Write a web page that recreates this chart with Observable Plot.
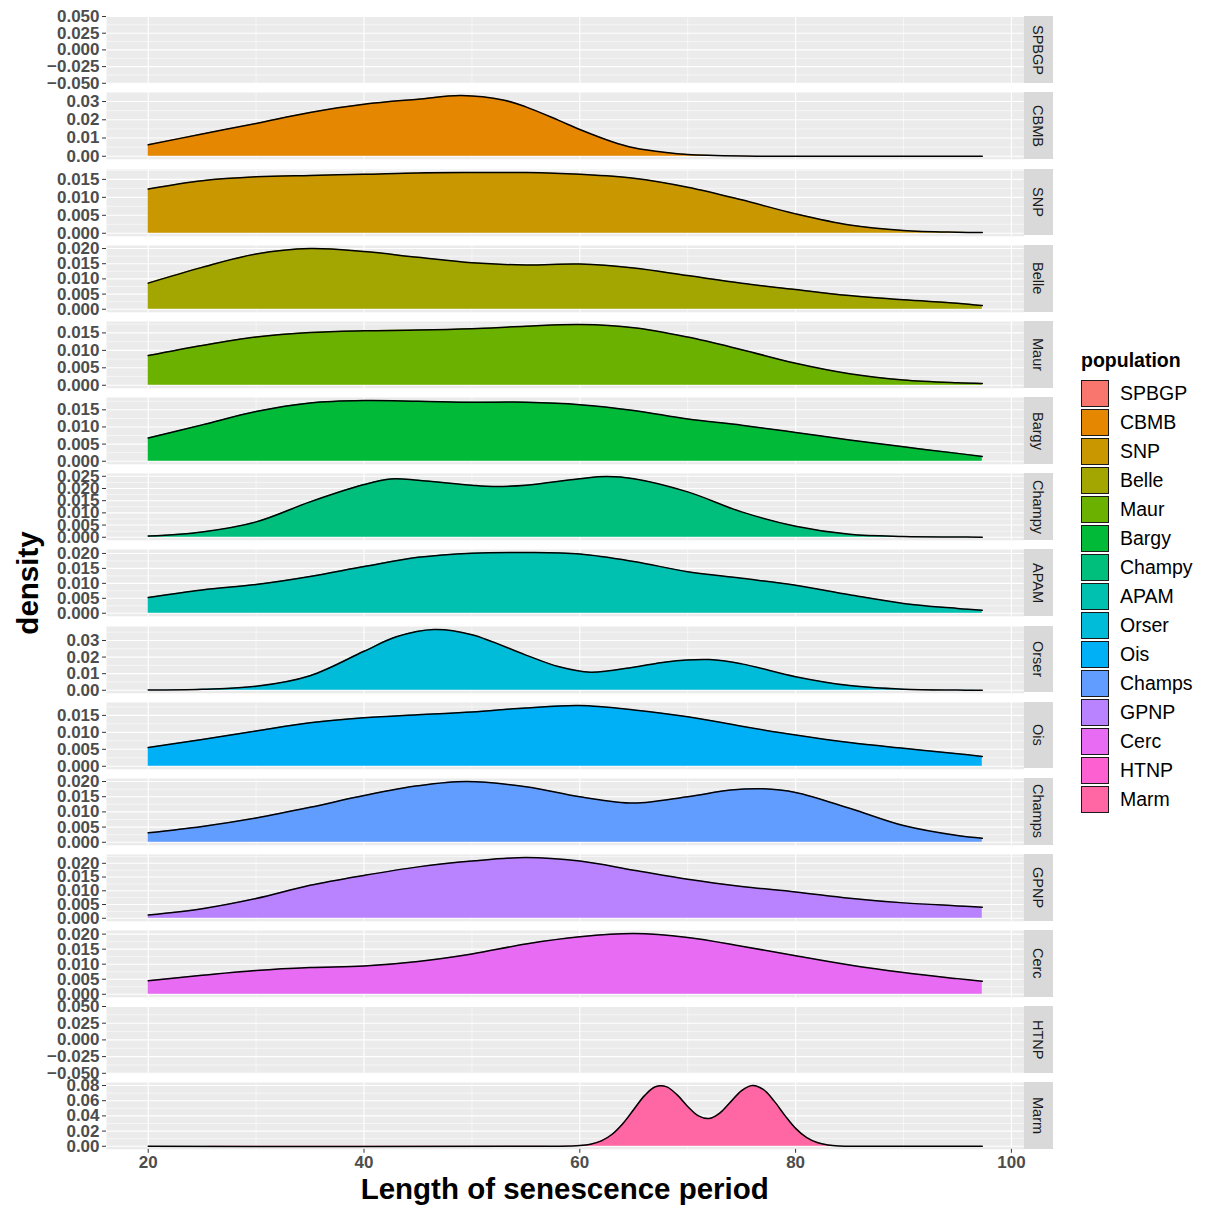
<!DOCTYPE html>
<html><head><meta charset="utf-8">
<script src="https://cdn.jsdelivr.net/npm/d3@7"></script>
<script src="https://cdn.jsdelivr.net/npm/@observablehq/plot@0.6"></script>
<style>
body{margin:0;background:#fff;font-family:"Liberation Sans",Arial,sans-serif;}
#chart{position:relative;width:1208px;height:1213px;overflow:hidden;background:#fff;}
svg.panel{position:absolute;left:0;overflow:visible;}
svg.panel text{font-family:"Liberation Sans",Arial,sans-serif;font-weight:bold;font-size:17px;fill:#4D4D4D;}
.strip{position:absolute;background:#D9D9D9;display:flex;align-items:center;justify-content:center;}
.strip span{writing-mode:vertical-rl;font-size:14.5px;color:#1A1A1A;line-height:1;}
.ytitle{position:absolute;width:240px;text-align:center;font-weight:bold;font-size:29.5px;line-height:30px;color:#000;transform:rotate(-90deg);}
.xtitle{position:absolute;text-align:center;font-weight:bold;font-size:29.5px;line-height:30px;color:#000;}
.legend-title{position:absolute;font-weight:bold;font-size:19.5px;line-height:20px;color:#000;}
.key{position:absolute;box-sizing:border-box;border:1.2px solid #1a1a1a;}
.klabel{position:absolute;font-size:19.5px;line-height:27px;color:#000;}
</style>
</head><body>
<div id="chart"></div>
<script>
// ---------- data ----------
const populations = ["SPBGP","CBMB","SNP","Belle","Maur","Bargy","Champy","APAM","Orser","Ois","Champs","GPNP","Cerc","HTNP","Marm"];
const fillColors = ["#F8766D","#E58700","#C99800","#A3A500","#6BB100","#00BA38","#00BF7D","#00C0AF","#00BCD8","#00B0F6","#619CFF","#B983FF","#E76BF3","#FD61D1","#FF67A4"];

const xGrid = [20,25,30,35,40,45,50,55,60,65,70,75,80,85,90,95,97.3];

const cbmbX = [20,25,30,35,40,45,49,53,55,58,60,63,65,68,70,75,80,90,97.3];
const cbmbY = [0.0063,0.0122,0.0180,0.0240,0.0285,0.0313,0.0333,0.0307,0.0271,0.0198,0.0147,0.0080,0.0047,0.0020,0.0009,0.0001,0,0,0];
const snpY   = [0.0123,0.0146,0.0157,0.0161,0.0164,0.0168,0.0169,0.0169,0.0164,0.0153,0.0128,0.0093,0.0054,0.0023,0.0008,0.0003,0.0002];
const belleY = [0.0086,0.0138,0.0182,0.0200,0.0190,0.0171,0.0153,0.0146,0.0149,0.0136,0.0111,0.0086,0.0065,0.0045,0.0031,0.0020,0.0012];
const maurY  = [0.0085,0.0114,0.0138,0.0151,0.0156,0.0158,0.0162,0.0169,0.0174,0.0165,0.0138,0.0102,0.0063,0.0033,0.0015,0.0007,0.0005];
const bargyY = [0.0068,0.0106,0.0145,0.0170,0.0177,0.0175,0.0172,0.0172,0.0165,0.0148,0.0123,0.0105,0.0084,0.0062,0.0042,0.0023,0.0014];
const champyX = [20,25,30,35,40,42.5,45,50,52,55,60,62.5,65,70,75,80,85,90,95,97.3];
const champyY = [0.0005,0.0022,0.0063,0.0145,0.0216,0.0239,0.0234,0.0213,0.0208,0.0213,0.0240,0.0249,0.0240,0.0186,0.0104,0.0045,0.0012,0.0003,0.0001,0];
const apamY  = [0.0053,0.0078,0.0096,0.0123,0.0156,0.0187,0.0201,0.0203,0.0198,0.0173,0.0139,0.0117,0.0094,0.0062,0.0033,0.0016,0.0010];
const orserX = [20,25,30,35,40,43,46.5,50,55,58,61,65,68,72,75,80,85,90,95,97.3];
const orserY = [0.0001,0.0006,0.0024,0.0088,0.0235,0.0322,0.0366,0.0335,0.0212,0.0143,0.0109,0.0139,0.0171,0.0185,0.0159,0.0082,0.0028,0.0006,0.0001,0];
const oisY   = [0.0055,0.0079,0.0104,0.0128,0.0143,0.0152,0.0160,0.0172,0.0179,0.0166,0.0146,0.0118,0.0092,0.0070,0.0053,0.0037,0.0029];
const champsX = [20,25,30,35,40,45,49.5,55,60,65,70,74,77,80,85,90,95,97.3];
const champsY = [0.0031,0.0052,0.0080,0.0115,0.0154,0.0186,0.0200,0.0183,0.0150,0.0129,0.0150,0.0172,0.0176,0.0164,0.0112,0.0055,0.0022,0.0013];
const gpnpY  = [0.0012,0.0035,0.0072,0.0120,0.0156,0.0187,0.0208,0.0221,0.0208,0.0175,0.0142,0.0116,0.0096,0.0073,0.0056,0.0045,0.0040];
const cercY  = [0.0045,0.0063,0.0079,0.0089,0.0094,0.0109,0.0134,0.0167,0.0191,0.0202,0.0189,0.0160,0.0128,0.0097,0.0072,0.0052,0.0043];
const marmX = [20,58,60,61,62,63,64,65,66,67,68,69,70,71,72,73,74,75,76,77,78,79,80,81,82,83,84,86,97.3];
const marmY = [0,0,0.0009,0.0027,0.0071,0.0158,0.0300,0.0484,0.0667,0.0783,0.0786,0.0681,0.0525,0.0400,0.0366,0.0441,0.0588,0.0734,0.0800,0.0748,0.0598,0.0407,0.0236,0.0117,0.0049,0.0018,0.0005,0,0];

const series = {
  SPBGP: null,
  CBMB: [cbmbX, cbmbY],
  SNP: [xGrid, snpY],
  Belle: [xGrid, belleY],
  Maur: [xGrid, maurY],
  Bargy: [xGrid, bargyY],
  Champy: [champyX, champyY],
  APAM: [xGrid, apamY],
  Orser: [orserX, orserY],
  Ois: [xGrid, oisY],
  Champs: [champsX, champsY],
  GPNP: [xGrid, gpnpY],
  Cerc: [xGrid, cercY],
  HTNP: null,
  Marm: [marmX, marmY]
};

const ticksEmpty = [-0.05,-0.025,0,0.025,0.05];
const ticks005_015 = [0,0.005,0.010,0.015];
const ticks005_020 = [0,0.005,0.010,0.015,0.020];
const ticks005_025 = [0,0.005,0.010,0.015,0.020,0.025];
const ticks01_03 = [0,0.01,0.02,0.03];
const ticks02_08 = [0,0.02,0.04,0.06,0.08];
const yTicks = {
  SPBGP: ticksEmpty, CBMB: ticks01_03, SNP: ticks005_015, Belle: ticks005_020,
  Maur: ticks005_015, Bargy: ticks005_015, Champy: ticks005_025, APAM: ticks005_020,
  Orser: ticks01_03, Ois: ticks005_015, Champs: ticks005_020, GPNP: ticks005_020,
  Cerc: ticks005_020, HTNP: ticksEmpty, Marm: ticks02_08
};
const yTickDecimals = {SPBGP:3, CBMB:2, SNP:3, Belle:3, Maur:3, Bargy:3, Champy:3, APAM:3, Orser:2, Ois:3, Champs:3, GPNP:3, Cerc:3, HTNP:3, Marm:2};
const xTicks = [20,40,60,80,100];
const xMinorTicks = [30,50,70,90];
const xTitle = "Length of senescence period";
const yTitle = "density";
const legendTitle = "population";

// ---------- layout ----------
const chart = document.getElementById("chart");
const T0 = 16.3, PITCH = 76.15, H = 66.8, LEFT = 106, RIGHT = 1023.5;

const allX = populations.flatMap(p => series[p] ? series[p][0] : []);
const [xlo, xhi] = d3.extent(allX);
const xpad = (xhi - xlo) * 0.05;
const xDomain = [xlo - xpad, xhi + xpad];

populations.forEach((pop, i) => {
  const s = series[pop];
  const data = s ? s[0].map((x, j) => ({x, y: s[1][j], pop})) : [];
  const ymax = s ? d3.max(s[1]) : null;
  const yDomain = s ? [-0.05 * ymax, 1.05 * ymax] : [-0.05, 0.05];
  const majors = yTicks[pop];
  const step = majors[1] - majors[0];
  const minors = [majors[0] - step / 2, ...majors.map(t => t + step / 2)]
    .filter(t => t > yDomain[0] && t < yDomain[1]);
  const fmt = d3.format("." + yTickDecimals[pop] + "f");
  const isLast = i === populations.length - 1;

  const marks = [
    Plot.frame({fill: "#EBEBEB", stroke: "none"}),
    Plot.gridY(minors, {stroke: "#FFFFFF", strokeOpacity: 1, strokeWidth: 0.55}),
    Plot.gridX(xMinorTicks, {stroke: "#FFFFFF", strokeOpacity: 1, strokeWidth: 0.55}),
    Plot.gridY(majors, {stroke: "#FFFFFF", strokeOpacity: 1, strokeWidth: 1.1}),
    Plot.gridX(xTicks, {stroke: "#FFFFFF", strokeOpacity: 1, strokeWidth: 1.1}),
    Plot.axisY(majors, {tickSize: 4, tickPadding: 3, stroke: "#333333", tickFormat: fmt, label: null})
  ];
  if (s) {
    marks.push(Plot.areaY(data, {x: "x", y: "y", fill: "pop", curve: "catmull-rom"}));
    marks.push(Plot.lineY(data, {x: "x", y: "y", stroke: "#000000", strokeWidth: 1.5, curve: "catmull-rom"}));
  }
  if (isLast) marks.push(Plot.axisX(xTicks, {tickSize: 4, tickPadding: 3, stroke: "#333333", label: null}));

  const svg = Plot.plot({
    width: RIGHT,
    height: H + (isLast ? 32 : 0),
    marginLeft: LEFT, marginRight: 0, marginTop: 0, marginBottom: isLast ? 32 : 0,
    x: {domain: xDomain, label: null, ...(isLast ? {} : {axis: null})},
    y: {domain: yDomain, label: null},
    color: {domain: populations, range: fillColors},
    style: {background: "transparent", overflow: "visible"},
    marks
  });
  svg.classList.add("panel");
  const top = T0 + i * PITCH;
  svg.style.top = top + "px";
  svg.style.left = "0px";
  svg.style.maxWidth = "none";
  chart.appendChild(svg);

  const strip = document.createElement("div");
  strip.className = "strip";
  strip.style.left = RIGHT + "px";
  strip.style.top = top + "px";
  strip.style.width = "29px";
  strip.style.height = H + "px";
  const sp = document.createElement("span");
  sp.textContent = pop;
  strip.appendChild(sp);
  chart.appendChild(strip);
});

// axis titles
const yt = document.createElement("div");
yt.className = "ytitle";
yt.textContent = yTitle;
yt.style.left = (28 - 120) + "px";
yt.style.top = (583 - 15) + "px";
chart.appendChild(yt);

const xt = document.createElement("div");
xt.className = "xtitle";
xt.textContent = xTitle;
xt.style.left = LEFT + "px";
xt.style.width = (RIGHT - LEFT) + "px";
xt.style.top = "1174px";
chart.appendChild(xt);

// legend
const lt = document.createElement("div");
lt.className = "legend-title";
lt.textContent = legendTitle;
lt.style.left = "1081px";
lt.style.top = "350px";
chart.appendChild(lt);
populations.forEach((pop, i) => {
  const k = document.createElement("div");
  k.className = "key";
  k.style.left = "1081px";
  k.style.top = (380 + i * 29) + "px";
  k.style.width = "28px";
  k.style.height = "27px";
  k.style.background = fillColors[i];
  chart.appendChild(k);
  const l = document.createElement("div");
  l.className = "klabel";
  l.textContent = pop;
  l.style.left = "1120px";
  l.style.top = (380 + i * 29) + "px";
  chart.appendChild(l);
});
</script>
</body></html>
